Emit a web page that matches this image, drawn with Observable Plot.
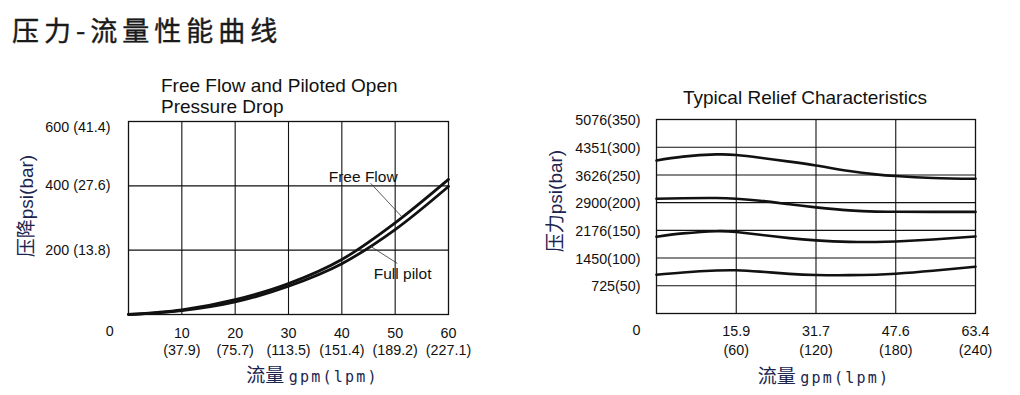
<!DOCTYPE html>
<html><head><meta charset="utf-8">
<script src="https://cdn.jsdelivr.net/npm/d3@7"></script>
<script src="https://cdn.jsdelivr.net/npm/@observablehq/plot@0.6"></script>
<style>
body{margin:0;background:#fff;}
#page{position:relative;width:1020px;height:395px;overflow:hidden;font-family:"Liberation Sans",Arial,sans-serif;color:#111;background:#fff;}
.abs{position:absolute;white-space:nowrap;}
.ylab{font-family:"Liberation Sans","Noto Sans CJK SC",sans-serif;font-size:19px;line-height:22px;color:#1c2550;transform:translate(-50%,-50%) rotate(-90deg);}
.xlab{line-height:22px;color:#1c2550;transform:translate(-50%,-50%);}
.xlab .cjk{font-family:"Noto Sans CJK SC";font-size:19px;}
.xlab .mono{font-family:"DejaVu Sans Mono";font-size:15px;letter-spacing:2.2px;}
</style></head><body>
<div id="page">
  <div id="left" class="abs" style="left:0;top:0"></div>
  <div id="right" class="abs" style="left:510px;top:0"></div>
  <div class="abs" style="left:12px;top:16px;font-family:'Noto Sans CJK SC';font-weight:400;font-size:27px;line-height:27px;letter-spacing:5px;color:#1a1a1a;-webkit-text-stroke:0.4px #1a1a1a">压力-流量性能曲线</div>
  <div class="abs" style="left:161px;top:75px;font-size:19px;line-height:21px;color:#111">Free Flow and Piloted Open<br>Pressure Drop</div>
  <div class="abs" style="left:683px;top:86.5px;font-size:19px;line-height:21px;color:#111">Typical Relief Characteristics</div>
  <div class="abs ylab" style="left:26.7px;top:205.5px">压降psi(bar)</div>
  <div class="abs ylab" style="left:555.5px;top:201px">压力psi(bar)</div>
  <div class="abs xlab" style="left:312.5px;top:375px"><span class="cjk">流量</span> <span class="mono">gpm(lpm)</span></div>
  <div class="abs xlab" style="left:824px;top:376px"><span class="cjk">流量</span> <span class="mono">gpm(lpm)</span></div>
</div>
<script>
// ---------- Left chart data: Free Flow and Piloted Open Pressure Drop ----------
const gpm = [0, 10, 20, 30, 40, 50, 60];
const freeFlow = [0, 14, 46, 96, 171, 285, 420];
const fullPilot = [0, 12, 39, 88, 158, 264, 398];
const leftXTicks = [10, 20, 30, 40, 50, 60];
const leftXLabels = ["10\n(37.9)", "20\n(75.7)", "30\n(113.5)", "40\n(151.4)", "50\n(189.2)", "60\n(227.1)"];
const leftYTicks = [200, 400];
const leftYLabels = ["200 (13.8)", "400 (27.6)"];
const leftTopTick = [600];
const leftTopLabel = ["600 (41.4)"];
const curveNames = ["Free Flow", "Full pilot"];
const curveLabelX = [44, 51.4];
const curveLabelY = [428, 126];
const leaderX1 = [45.4, 45.4];
const leaderY1 = [408, 212];
const leaderX2 = [51.3, 50.4];
const leaderY2 = [303, 159];
const origin = ["0"];

// ---------- Right chart data: Typical Relief Characteristics ----------
const lpm = [0, 20, 45, 60, 78, 100, 120, 145, 165, 180, 208, 240];
const relief300 = [276, 283, 287, 286, 281, 274, 267, 257, 251, 248, 244.5, 243];
const relief200 = [207, 208, 208.3, 207, 203.5, 197, 191.5, 186, 183.8, 183.5, 183.3, 183.3];
const relief150 = [138.5, 144.5, 148.5, 147, 142, 136, 132, 129.3, 129, 130, 133.5, 139];
const relief75 = [70, 74, 77.5, 78, 75.5, 71.5, 69.5, 69.2, 70, 71.7, 77, 84.3];
const rightXTicks = [60, 120, 180, 240];
const rightXLabels = ["15.9\n(60)", "31.7\n(120)", "47.6\n(180)", "63.4\n(240)"];
const rightYTicks = [50, 100, 150, 200, 250, 300, 350];
const rightYLabels = ["725(50)", "1450(100)", "2176(150)", "2900(200)", "3626(250)", "4351(300)", "5076(350)"];

const ink = "#111";
const baseStyle = {fontFamily: "'Liberation Sans', Arial, sans-serif", fontSize: "14px", color: ink, background: "transparent", overflow: "visible"};

const leftData = gpm.flatMap((x, i) => [
  {x, y: freeFlow[i], s: "Free Flow"},
  {x, y: fullPilot[i], s: "Full pilot"}
]);

const leftPlot = Plot.plot({
  width: 510, height: 395,
  marginLeft: 128, marginRight: 62, marginTop: 121, marginBottom: 81,
  style: baseStyle,
  x: {domain: [0, 60], label: null},
  y: {domain: [0, 600], label: null},
  marks: [
    Plot.gridX(leftXTicks.slice(0, -1), {stroke: ink, strokeOpacity: 1, strokeWidth: 1.1}),
    Plot.gridY(leftYTicks, {stroke: ink, strokeOpacity: 1, strokeWidth: 1.1}),
    Plot.frame({stroke: ink, strokeWidth: 1.3}),
    Plot.axisX(leftXTicks, {tickSize: 0, tickPadding: 11, lineHeight: 1.22, fontSize: 14.3, label: null,
      tickFormat: d => leftXLabels[leftXTicks.indexOf(d)]}),
    Plot.axisY(leftYTicks, {tickSize: 0, tickPadding: 18, fontSize: 14.3, label: null,
      tickFormat: d => leftYLabels[leftYTicks.indexOf(d)]}),
    Plot.axisY(leftTopTick, {tickSize: 0, tickPadding: 18, fontSize: 14.3, label: null, dy: 6,
      tickFormat: d => leftTopLabel[leftTopTick.indexOf(d)]}),
    Plot.text(origin, {x: () => 0, y: () => 0, text: d => d, dx: -18.7, dy: 17, fontSize: 14.3}),
    Plot.line(leftData, {x: "x", y: "y", z: "s", stroke: ink, strokeWidth: 2.8, curve: "monotone-x"}),
    Plot.link(curveNames, {x1: (d, i) => leaderX1[i], y1: (d, i) => leaderY1[i], x2: (d, i) => leaderX2[i], y2: (d, i) => leaderY2[i], stroke: "#333", strokeWidth: 0.8}),
    Plot.text(curveNames, {x: (d, i) => curveLabelX[i], y: (d, i) => curveLabelY[i], text: d => d, fontSize: 15.5})
  ]
});
document.getElementById("left").appendChild(leftPlot);

const series = [relief300, relief200, relief150, relief75];
const rightData = series.flatMap((arr, k) => lpm.map((x, i) => ({x, y: arr[i], s: k})));

const rightPlot = Plot.plot({
  width: 510, height: 395,
  marginLeft: 146, marginRight: 45, marginTop: 119, marginBottom: 82,
  style: baseStyle,
  x: {domain: [0, 240], label: null},
  y: {domain: [0, 350], label: null},
  marks: [
    Plot.gridX(rightXTicks.slice(0, -1), {stroke: ink, strokeOpacity: 1, strokeWidth: 1.1}),
    Plot.gridY(rightYTicks.slice(0, -1), {stroke: ink, strokeOpacity: 1, strokeWidth: 1.1}),
    Plot.frame({stroke: ink, strokeWidth: 1.3}),
    Plot.axisX(rightXTicks, {tickSize: 0, tickPadding: 8.5, lineHeight: 1.35, fontSize: 14.3, label: null,
      tickFormat: d => rightXLabels[rightXTicks.indexOf(d)]}),
    Plot.axisY(rightYTicks, {tickSize: 0, tickPadding: 16, fontSize: 14.3, label: null, dy: 1,
      tickFormat: d => rightYLabels[rightYTicks.indexOf(d)]}),
    Plot.text(origin, {x: () => 0, y: () => 0, text: d => d, dx: -20, dy: 16.7, fontSize: 14.3}),
    Plot.line(rightData, {x: "x", y: "y", z: "s", stroke: ink, strokeWidth: 2.6, curve: "natural"})
  ]
});
document.getElementById("right").appendChild(rightPlot);
</script>
</body></html>
